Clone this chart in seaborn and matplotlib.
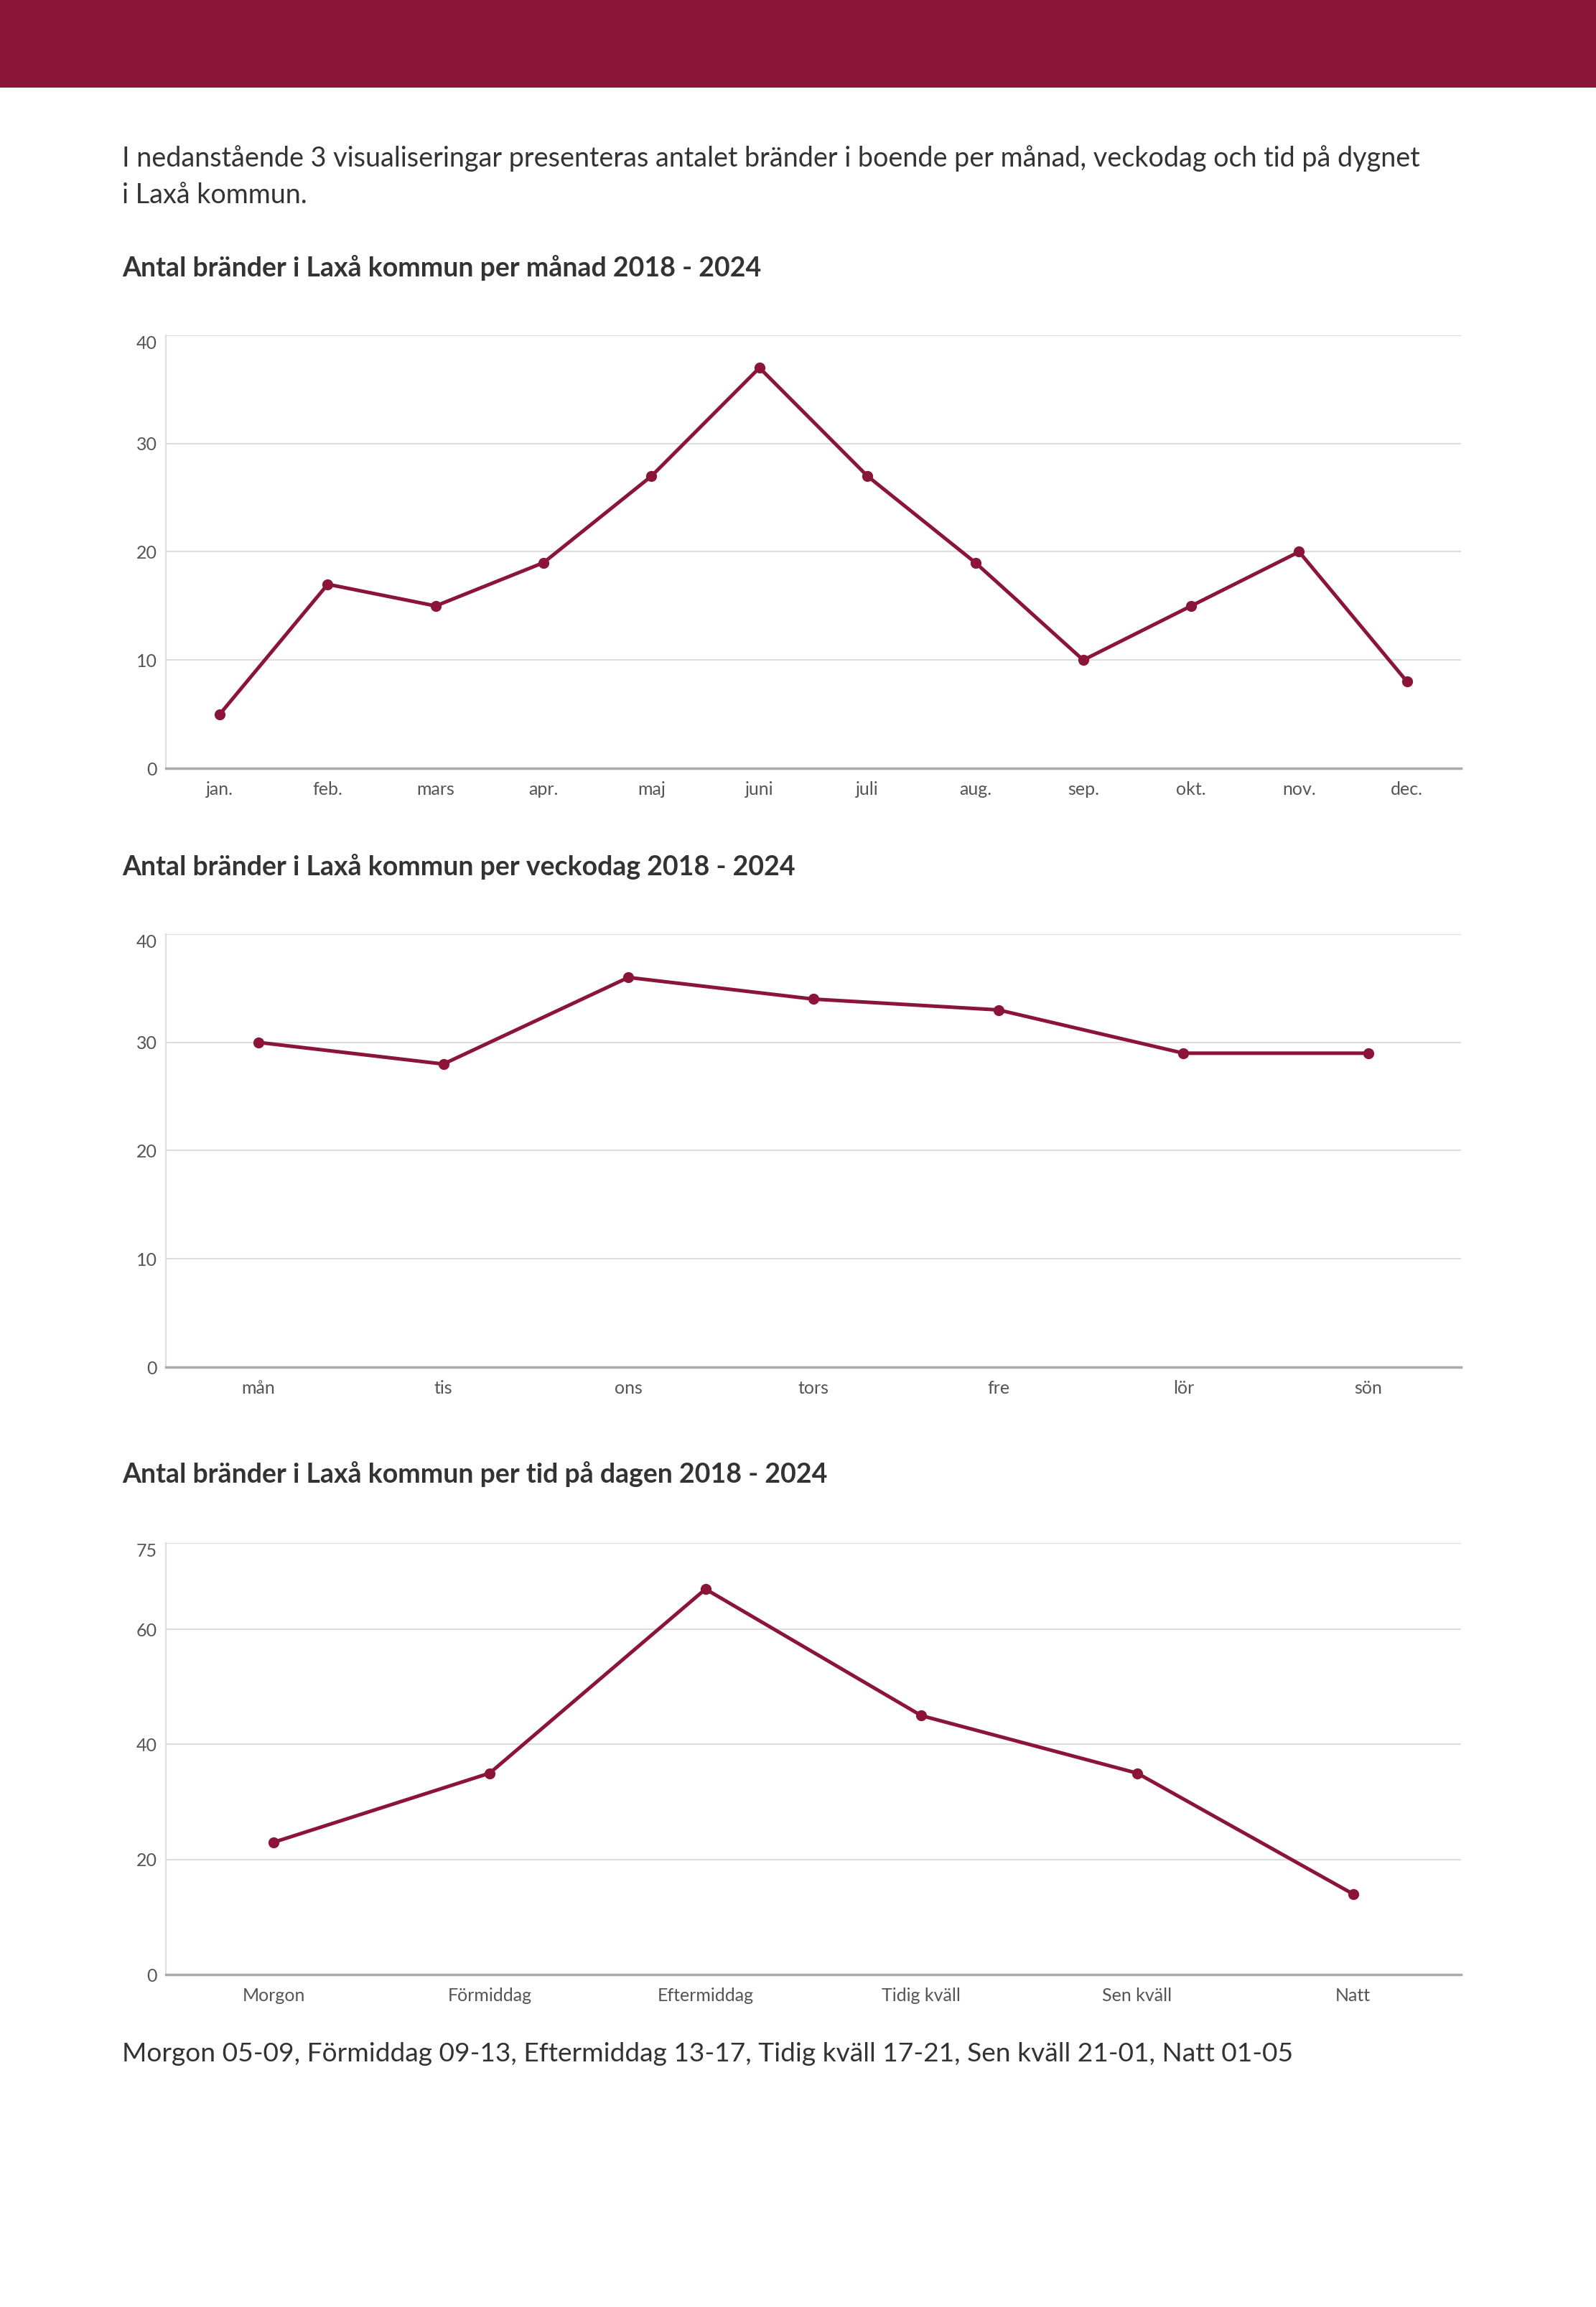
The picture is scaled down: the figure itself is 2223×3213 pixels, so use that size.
"""
Antal bränder i Laxå kommun - three line charts (month, weekday, time of day)
"""

import pandas as pd
import matplotlib.pyplot as plt
from matplotlib.patches import Rectangle
import seaborn as sns

# Colours
WINE = '#8B1538'
TEXT = '#333333'
TICK = '#555555'
GRID = '#dddddd'

# Data
months = ['jan.', 'feb.', 'mars', 'apr.', 'maj', 'juni', 'juli', 'aug.', 'sep.', 'okt.', 'nov.', 'dec.']
month_fires = [5, 17, 15, 19, 27, 37, 27, 19, 10, 15, 20, 8]

weekdays = ['mån', 'tis', 'ons', 'tors', 'fre', 'lör', 'sön']
weekday_fires = [30, 28, 36, 34, 33, 29, 29]

dayparts = ['Morgon', 'Förmiddag', 'Eftermiddag', 'Tidig kväll', 'Sen kväll', 'Natt']
daypart_fires = [23, 35, 67, 45, 35, 14]

month_ticks = [0, 10, 20, 30, 40]
weekday_ticks = [0, 10, 20, 30, 40]
daypart_ticks = [0, 20, 40, 60, 75]

# Page setup
sns.set_style("white")
plt.rcParams['font.family'] = ['Lato', 'DejaVu Sans']

W, H = 2223, 3213
fig = plt.figure(figsize=(W / 100, H / 100), dpi=100)
fig.patch.set_facecolor('white')


def px_rect(left, top, right, bottom):
    """Axes rectangle from pixel coords (origin top-left)"""
    return [left / W, 1 - bottom / H, (right - left) / W, (bottom - top) / H]


def fig_text(x, y, s, **kw):
    fig.text(x / W, 1 - y / H, s, va='baseline', ha='left', color=TEXT, **kw)


# Header band
fig.patches.append(Rectangle((0, 1 - 122 / H), 1, 122 / H, transform=fig.transFigure,
                             facecolor=WINE, edgecolor='none'))

fig_text(170, 232, 'I nedanstående 3 visualiseringar presenteras antalet bränder i boende per månad, veckodag och tid på dygnet',
         fontsize=27.2)
fig_text(170, 283, 'i Laxå kommun.', fontsize=27.2)


def line_chart(rect, title_y, title, cats, vals, ticks):
    ax = fig.add_axes(rect)
    df = pd.DataFrame({'cat': cats, 'val': vals})
    sns.lineplot(data=df, x='cat', y='val', sort=False, color=WINE, linewidth=3.6,
                 marker='o', markersize=11, markeredgewidth=0, ax=ax)
    ax.set_xlim(-0.5, len(cats) - 0.5)
    ax.set_ylim(ticks[0], ticks[-1])
    ax.set_yticks(ticks)
    ax.set_xlabel('')
    ax.set_ylabel('')
    ax.grid(axis='y', color=GRID, linewidth=1.5)
    ax.set_axisbelow(True)
    for side in ['top', 'right']:
        ax.spines[side].set_visible(False)
    ax.spines['left'].set_color(GRID)
    ax.spines['left'].set_linewidth(1.5)
    ax.spines['bottom'].set_color('#aaaaaa')
    ax.spines['bottom'].set_linewidth(2.5)
    ax.tick_params(axis='y', labelsize=18, labelcolor=TICK, length=5, color=GRID, width=1.5, pad=4)
    ax.tick_params(axis='x', labelsize=18, labelcolor=TICK, length=0, pad=13)
    ax.get_yticklabels()[-1].set_va('top')
    fig_text(170, title_y, title, fontsize=27, fontweight='bold')
    return ax


line_chart(px_rect(231, 467, 2035, 1070), 385,
           'Antal bränder i Laxå kommun per månad 2018 - 2024',
           months, month_fires, month_ticks)
line_chart(px_rect(231, 1301, 2035, 1904), 1219,
           'Antal bränder i Laxå kommun per veckodag 2018 - 2024',
           weekdays, weekday_fires, weekday_ticks)
line_chart(px_rect(231, 2149, 2035, 2750), 2065,
           'Antal bränder i Laxå kommun per tid på dagen 2018 - 2024',
           dayparts, daypart_fires, daypart_ticks)

fig_text(170, 2871, 'Morgon 05-09, Förmiddag 09-13, Eftermiddag 13-17, Tidig kväll 17-21, Sen kväll 21-01, Natt 01-05',
         fontsize=26.7)

fig.savefig('out.png', dpi=100)
plt.close(fig)
